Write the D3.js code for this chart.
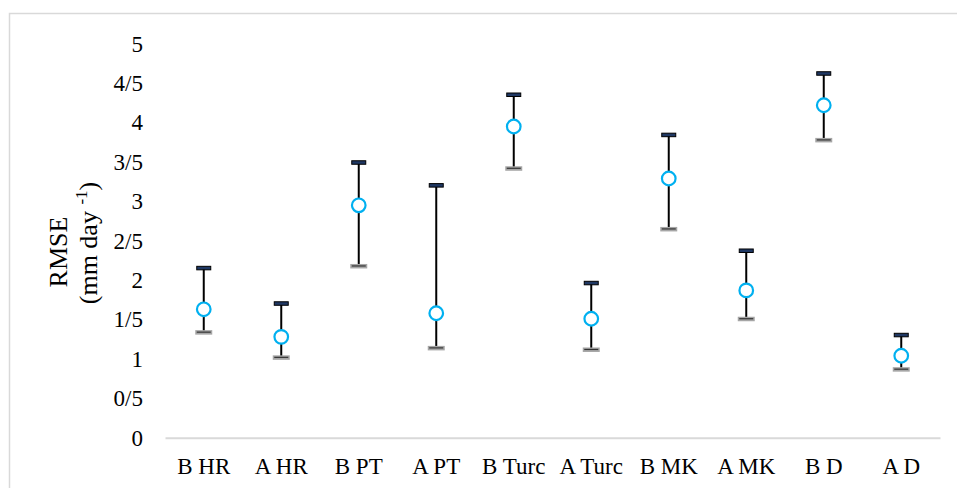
<!DOCTYPE html>
<html>
<head>
<meta charset="utf-8">
<script src="https://cdn.jsdelivr.net/npm/d3@7"></script>
<style>
  body { margin: 0; background: #fff; }
  svg text { font-family: "Liberation Serif", "Times New Roman", serif; fill: #000; }
</style>
</head>
<body>
<div id="chart"></div>
<script>
var categories = ["B HR", "A HR", "B PT", "A PT", "B Turc", "A Turc", "B MK", "A MK", "B D", "A D"];
var means = [1.63, 1.28, 2.95, 1.58, 3.95, 1.51, 3.29, 1.87, 4.22, 1.04];
var upper = [2.15, 1.70, 3.49, 3.20, 4.35, 1.96, 3.84, 2.37, 4.62, 1.30];
var lower = [1.34, 1.02, 2.18, 1.14, 3.42, 1.12, 2.65, 1.51, 3.78, 0.87];
var tickValues = [0, 0.5, 1, 1.5, 2, 2.5, 3, 3.5, 4, 4.5, 5];
var tickLabels = ["0", "0/5", "1", "1/5", "2", "2/5", "3", "3/5", "4", "4/5", "5"];

var width = 957, height = 488;

var svg = d3.select("#chart").append("svg")
    .attr("width", width)
    .attr("height", height);

// outer chart frame (right and bottom run off the picture)
svg.append("rect")
    .attr("x", 9.5).attr("y", 13.5)
    .attr("width", 980).attr("height", 500)
    .attr("fill", "none")
    .attr("stroke", "#d9d9d9")
    .attr("stroke-width", 1.5);

var x = d3.scaleBand()
    .domain(categories)
    .range([165, 940]);

var y = d3.scaleLinear()
    .domain([0, 5])
    .range([437.7, 43.8]);

var rows = categories.map(function(c, i) {
  return {cat: c, mean: means[i], hi: upper[i], lo: lower[i]};
});

// x axis line
var xAxis = d3.axisBottom(x).tickSize(0);
var gx = svg.append("g")
    .attr("transform", "translate(0," + y(0) + ")")
    .call(xAxis);
gx.select(".domain").attr("stroke", "#d9d9d9").attr("stroke-width", 2);
gx.selectAll("text")
    .attr("font-size", 23)
    .attr("y", 36)
    .attr("dy", 0);

// y axis, labels only
var yAxis = d3.axisLeft(y)
    .tickValues(tickValues)
    .tickFormat(function(d, i) { return tickLabels[i]; })
    .tickSize(0);
var gy = svg.append("g")
    .attr("transform", "translate(143,0)")
    .call(yAxis);
gy.select(".domain").remove();
gy.selectAll("text").attr("font-size", 23).attr("x", 0);

// axis title
var title = svg.append("g")
    .attr("transform", "translate(0,247) rotate(-90)");
title.append("text")
    .attr("x", -5).attr("y", 67)
    .attr("text-anchor", "middle")
    .attr("font-size", 26)
    .text("RMSE");
var t2 = title.append("text")
    .attr("x", 4).attr("y", 97)
    .attr("text-anchor", "middle")
    .attr("font-size", 26);
t2.append("tspan").text("(mm day ");
t2.append("tspan").attr("font-size", 17).attr("dy", -10).text("-1");
t2.append("tspan").attr("dy", 10).text(")");

var g = svg.append("g").selectAll("g")
    .data(rows)
    .enter().append("g")
    .attr("transform", function(d) { return "translate(" + (x(d.cat) + x.bandwidth() / 2) + ",0)"; });

g.append("line")
    .attr("y1", function(d) { return y(d.lo); })
    .attr("y2", function(d) { return y(d.hi); })
    .attr("stroke", "#000")
    .attr("stroke-width", 2);

// top caps
g.append("rect")
    .attr("x", -7).attr("width", 14)
    .attr("y", function(d) { return y(d.hi) - 2; })
    .attr("height", 3.5)
    .attr("fill", "#1f3864")
    .attr("stroke", "#000")
    .attr("stroke-width", 1);

// bottom caps
g.append("rect")
    .attr("x", -8.5).attr("width", 17)
    .attr("y", function(d) { return y(d.lo) - 2; })
    .attr("height", 4.5)
    .attr("fill", "#a6a6a6");
g.append("line")
    .attr("x1", -7).attr("x2", 7)
    .attr("y1", function(d) { return y(d.lo); })
    .attr("y2", function(d) { return y(d.lo); })
    .attr("stroke", "#333")
    .attr("stroke-width", 1.2);

g.append("circle")
    .attr("cy", function(d) { return y(d.mean); })
    .attr("r", 6.8)
    .attr("fill", "#fff")
    .attr("stroke", "#00b0f0")
    .attr("stroke-width", 2.2);
</script>
</body>
</html>
